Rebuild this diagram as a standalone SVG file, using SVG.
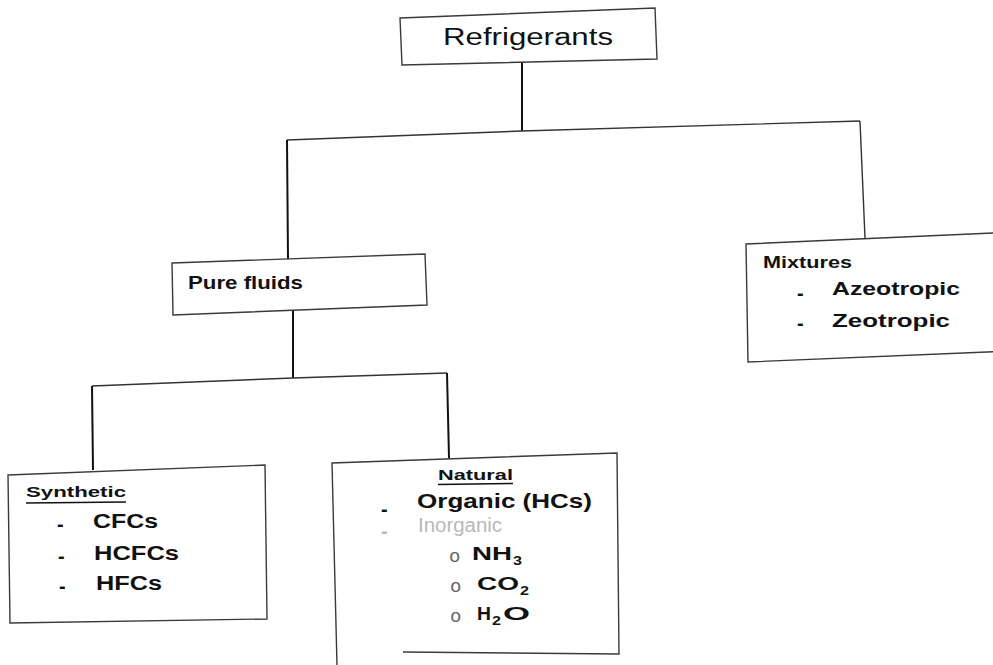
<svg xmlns="http://www.w3.org/2000/svg" width="993" height="665" viewBox="0 0 993 665">
<style>
.bg{fill:#ffffff}
.box{fill:none;stroke:#3a3a3a;stroke-width:1.4;stroke-linejoin:miter}
.con{fill:none;stroke:#333;stroke-width:1.4}
.conv{fill:none;stroke:#111;stroke-width:2}
text{font-family:"Liberation Sans",Arial,sans-serif;fill:#111}
.b{font-weight:bold}
.ul{stroke:#111;stroke-width:1.6}
.dash{font-weight:bold;font-size:20px}
.bul{font-family:"Liberation Mono","Courier New",monospace;font-size:19px;fill:#666}
.faint{fill:#b8b8b8}
</style>
<rect class="bg" x="0" y="0" width="993" height="665"/>

<g id="connectors">
  <path class="conv" d="M522,62 L522,131"/>
  <path class="con" d="M287,140 L522,131 L860,121"/>
  <path class="conv" d="M287,140 L288,259"/>
  <path class="con" d="M860,121 L865,238"/>
  <path class="conv" d="M293,310 L293,378"/>
  <path class="con" d="M92,386 L293,378 L447,373"/>
  <path class="conv" d="M92,386 L93,470"/>
  <path class="conv" d="M447,373 L449,458"/>
</g>

<g id="refrigerants">
  <polygon class="box" points="400,18 655,8 657,59 402,65"/>
  <text x="443" y="45" font-size="23" textLength="170" lengthAdjust="spacingAndGlyphs">Refrigerants</text>
</g>

<g id="pure-fluids">
  <polygon class="box" points="172,263 425,254 427,305 173,315"/>
  <text class="b" x="188" y="289" font-size="18" textLength="115" lengthAdjust="spacingAndGlyphs">Pure fluids</text>
</g>

<g id="mixtures">
  <path class="box" d="M1000,232.7 L746,244 L748,362 L1000,351.5"/>
  <text class="b" x="763" y="268" font-size="16" textLength="89" lengthAdjust="spacingAndGlyphs">Mixtures</text>
  <text class="dash" x="797" y="300">-</text>
  <text class="b" x="832" y="295" font-size="19" textLength="128" lengthAdjust="spacingAndGlyphs">Azeotropic</text>
  <text class="dash" x="797" y="330">-</text>
  <text class="b" x="832" y="327" font-size="19" textLength="118" lengthAdjust="spacingAndGlyphs">Zeotropic</text>
</g>

<g id="synthetic">
  <polygon class="box" points="8,475 265,465 267,619 10,623"/>
  <text class="b" x="26" y="497" font-size="15" textLength="100" lengthAdjust="spacingAndGlyphs">Synthetic</text>
  <line class="ul" x1="26" y1="503" x2="126" y2="502"/>
  <text class="dash" x="57" y="531">-</text>
  <text class="b" x="93" y="528" font-size="20" textLength="65" lengthAdjust="spacingAndGlyphs">CFCs</text>
  <text class="dash" x="58" y="563">-</text>
  <text class="b" x="94" y="560" font-size="20" textLength="85" lengthAdjust="spacingAndGlyphs">HCFCs</text>
  <text class="dash" x="59" y="593">-</text>
  <text class="b" x="96" y="590" font-size="20" textLength="66" lengthAdjust="spacingAndGlyphs">HFCs</text>
</g>

<g id="natural">
  <path class="box" d="M403,652 L619,654 L617,453 L332,463 L337,665"/>
  <text class="b" x="438" y="480" font-size="15" textLength="75" lengthAdjust="spacingAndGlyphs">Natural</text>
  <line class="ul" x1="438" y1="484.5" x2="513" y2="483.5"/>
  <text class="dash" x="381" y="516">-</text>
  <text class="b" x="417" y="508" font-size="21" textLength="175" lengthAdjust="spacingAndGlyphs">Organic (HCs)</text>
  <text class="dash faint" x="381" y="538">-</text>
  <text class="faint" x="418" y="532" font-size="20" textLength="84" lengthAdjust="spacingAndGlyphs">Inorganic</text>
  <text class="bul" x="449" y="562">o</text>
  <text class="b" x="472" y="560" font-size="19" textLength="40" lengthAdjust="spacingAndGlyphs">NH</text>
  <text class="b" x="513" y="565" font-size="13" textLength="9" lengthAdjust="spacingAndGlyphs">3</text>
  <text class="bul" x="450" y="592">o</text>
  <text class="b" x="477" y="590" font-size="19" textLength="42" lengthAdjust="spacingAndGlyphs">CO</text>
  <text class="b" x="520" y="595" font-size="13" textLength="9" lengthAdjust="spacingAndGlyphs">2</text>
  <text class="bul" x="450" y="622">o</text>
  <text class="b" x="477" y="620" font-size="19" textLength="14" lengthAdjust="spacingAndGlyphs">H</text>
  <text class="b" x="492" y="625" font-size="13" textLength="9" lengthAdjust="spacingAndGlyphs">2</text>
  <text class="b" x="503" y="620" font-size="19" textLength="27" lengthAdjust="spacingAndGlyphs">O</text>
</g>
</svg>
